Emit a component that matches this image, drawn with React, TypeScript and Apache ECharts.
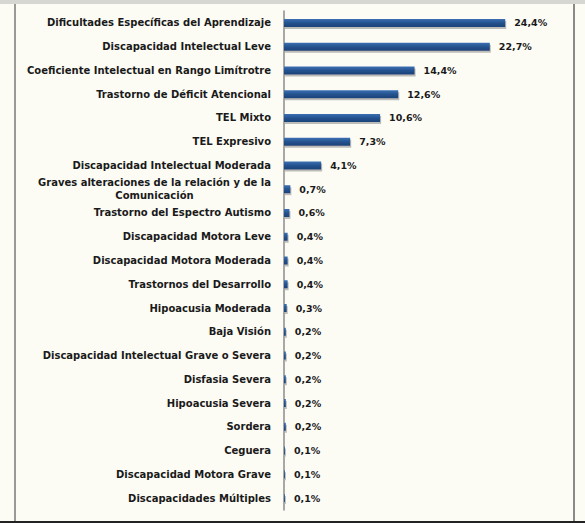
import React, { useEffect, useRef } from "react";
import * as echarts from "echarts";

const categories: string[] = [
  "Dificultades Específicas del Aprendizaje",
  "Discapacidad Intelectual Leve",
  "Coeficiente Intelectual en Rango Limítrotre",
  "Trastorno de Déficit Atencional",
  "TEL Mixto",
  "TEL Expresivo",
  "Discapacidad Intelectual Moderada",
  "Graves alteraciones de la relación y de la\nComunicación",
  "Trastorno del Espectro Autismo",
  "Discapacidad Motora Leve",
  "Discapacidad Motora Moderada",
  "Trastornos del Desarrollo",
  "Hipoacusia Moderada",
  "Baja Visión",
  "Discapacidad Intelectual Grave o Severa",
  "Disfasia Severa",
  "Hipoacusia Severa",
  "Sordera",
  "Ceguera",
  "Discapacidad Motora Grave",
  "Discapacidades Múltiples",
];

const percentages: number[] = [
  24.4, 22.7, 14.4, 12.6, 10.6, 7.3, 4.1, 0.7, 0.6, 0.4, 0.4, 0.4, 0.3, 0.2,
  0.2, 0.2, 0.2, 0.2, 0.1, 0.1, 0.1,
];

const FONT = "'DejaVu Sans', Verdana, sans-serif";

export default function App() {
  const ref = useRef<HTMLDivElement>(null);
  useEffect(() => {
    if (!ref.current) return;
    const chart = echarts.init(ref.current, null, { renderer: "svg" });
    chart.setOption({
      animation: false,
      backgroundColor: "#fcfcf5",
      graphic: [
        { type: "rect", shape: { x: 0, y: 0, width: 585, height: 4 }, style: { fill: "#d6d6d2" }, silent: true },
        { type: "rect", shape: { x: 14, y: 4, width: 2, height: 517 }, style: { fill: "#9a9a96" }, silent: true },
        { type: "rect", shape: { x: 573, y: 4, width: 2, height: 517 }, style: { fill: "#8a8a86" }, silent: true },
        { type: "rect", shape: { x: 0, y: 521, width: 585, height: 2 }, style: { fill: "#222" }, silent: true },
      ],
      grid: { left: 284, top: 11, width: 272, height: 499, containLabel: false },
      xAxis: {
        type: "value",
        min: 0,
        max: 30,
        show: false,
      },
      yAxis: {
        type: "category",
        inverse: true,
        data: categories,
        axisLine: { show: true, lineStyle: { color: "#8c8c8c", width: 1.5 } },
        axisTick: { show: false },
        axisLabel: {
          margin: 13,
          formatter: (v: string) =>
            v
              .split("\n")
              .map((s) => `{c|${s}}`)
              .join("\n"),
          rich: {
            c: {
              align: "center",
              fontFamily: FONT,
              fontSize: 10,
              fontWeight: "bold",
              color: "#1a1a1a",
              lineHeight: 13,
            },
          },
        },
      },
      series: [
        {
          type: "bar",
          data: percentages,
          barWidth: 8,
          itemStyle: {
            color: new echarts.graphic.LinearGradient(0, 0, 0, 1, [
              { offset: 0, color: "#3d70b3" },
              { offset: 0.5, color: "#24538f" },
              { offset: 1, color: "#1b4279" },
            ]),
            shadowColor: "rgba(110,110,110,0.45)",
            shadowOffsetX: 1,
            shadowOffsetY: 2,
            shadowBlur: 0,
          },
          label: {
            show: true,
            position: "right",
            distance: 9,
            fontFamily: FONT,
            fontSize: 9.5,
            fontWeight: "bold",
            color: "#1a1a1a",
            formatter: (p: any) => `${p.value.toFixed(1).replace(".", ",")}%`,
          },
        },
      ],
    });
    return () => chart.dispose();
  }, []);
  return (
    <div
      ref={ref}
      style={{ position: "fixed", left: 0, top: 0, width: 585, height: 523 }}
    />
  );
}
